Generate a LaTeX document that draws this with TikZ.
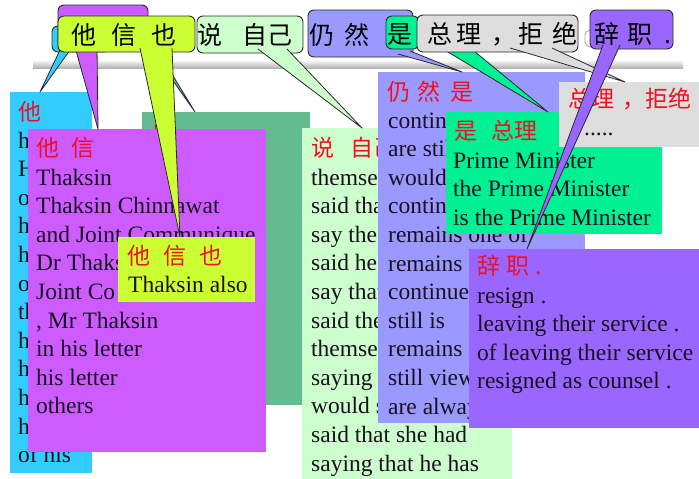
\documentclass[tikz,border=0pt]{standalone}
\usepackage{fontspec}
\setmainfont{Liberation Serif}
\newfontfamily\cjk{Noto Sans CJK SC}
\usetikzlibrary{calc}
\definecolor{cCyan}{HTML}{33CCFF}
\definecolor{cPurple}{HTML}{CC5CFF}
\definecolor{cYellow}{HTML}{CCFF33}
\definecolor{cDGreen}{HTML}{62BC8E}
\definecolor{cLGreen}{HTML}{CCFFCC}
\definecolor{cPeri}{HTML}{9999FF}
\definecolor{cGreen}{HTML}{00F094}
\definecolor{cGrey}{HTML}{DDDDDD}
\definecolor{cViolet}{HTML}{9966FF}
\definecolor{cRed}{HTML}{F01020}
\definecolor{cInk}{HTML}{1A1020}
\definecolor{cEdge}{HTML}{2A2A2A}
\newcommand\hs[1]{\hspace{#1pt}}
\newcommand\txtlines[4]{\foreach \ttxt [count=\nn from 0] in {#4} {\node[eng] (#1\nn) at (#2,{#3+\nn*28.6}) {\ttxt};}}
\newcommand\calltail[4]{%
  \fill[#1] (#2) -- (#4) -- (#3) -- cycle;
  \draw[tailedge] (#2) -- (#4) -- (#3);}
\begin{document}
\begin{tikzpicture}[x=1pt,y=-1pt,
  box/.style={draw=none, rectangle, inner sep=0pt, outer sep=0pt, anchor=north west},
  bub/.style={draw=cEdge, line width=0.9pt, rounded corners=6pt, rectangle, inner sep=0pt, outer sep=0pt, anchor=north west},
  eng/.style={anchor=base west, inner sep=0pt, text=cInk, font=\fontsize{23.5}{28}\selectfont},
  lab/.style={anchor=base west, inner sep=0pt, text=cRed, font=\cjk\fontsize{23}{28}\selectfont},
  btxt/.style={anchor=base west, inner sep=0pt, text=black, font=\cjk\fontsize{25}{28}\selectfont},
  tailedge/.style={draw=cEdge, line width=0.8pt, line join=round},
]
\useasboundingbox (0,0) rectangle (699,479);
% grey bar
\shade[top color=gray!10, bottom color=gray!60] (33,61) rectangle (683,68);

% ---- boxes ----
\node[box, fill=cCyan, minimum width=82pt, minimum height=381pt] (bxC) at (10,92) {};
\node[lab] (lC) at (18,120) {他};
\txtlines{c}{18}{148}{h,H,o,h,h,o,th,h,h,h,h,of his}

\node[box, fill=cDGreen, minimum width=168pt, minimum height=293pt] (bxD) at (142,112) {};
\node[lab] (lD) at (150,142) {也};

\node[box, fill=cPurple, minimum width=238pt, minimum height=323pt] (bxP) at (28,129) {};
\node[lab] (lP) at (36,156) {他\hs{12}信};
\txtlines{p}{36}{185}{Thaksin,Thaksin Chinnawat,and Joint Communique,Dr Thaks,Joint Co,{, Mr Thaksin},in his letter,his letter,others}

\node[box, fill=cYellow, minimum width=137pt, minimum height=65pt] (bxY) at (118,237) {};
\node[lab] (lY) at (127,264) {他\hs{13}信\hs{13}也};
\txtlines{y}{128}{292}{Thaksin also}

\node[box, fill=cLGreen, minimum width=210pt, minimum height=351pt] (bxL) at (302,128) {};
\node[lab] (lL) at (311,156) {说\hs{16}自己};
\txtlines{g}{311}{185}{themsel,said tha,say the,said he,say that,said the,themsel,saying,would s,said that she had,saying that he has}

\node[box, fill=cPeri, minimum width=207pt, minimum height=351pt] (bxR) at (378,72) {};
\node[lab] (lR) at (387,100) {仍\hs{7}然\hs{10}是};
\txtlines{r}{388}{128}{contin,are stil,would,contin,remains one of,remains,continue,still is,remains,still view,are always}

\node[box, fill=cGreen, minimum width=216pt, minimum height=122pt] (bxG) at (446,112) {};
\node[lab] (lG) at (454,139) {是\hs{14}总理};
\txtlines{n}{453}{168}{Prime Minister,the Prime Minister,is the Prime Minister}

\node[box, fill=cGrey, minimum width=140pt, minimum height=65pt] (bxS) at (559,82) {};
\node[lab] (lS) at (568,107) {总理\hs{8}，拒绝};
\node[eng] (dS) at (584,135) {.....};

\node[box, fill=cViolet, minimum width=230pt, minimum height=179pt] (bxV) at (469,249) {};
\node[lab] (lV) at (477,274) {辞\hs{6}职\hs{6}.};
\txtlines{v}{477}{303}{resign .,leaving their service .,of leaving their service,resigned as counsel .}

% ---- callouts ----
% cyan
\node[bub, fill=cCyan, minimum width=58pt, minimum height=26pt] (bC) at (52,26) {};
\coordinate (cA) at (60,50); \coordinate (cB) at (70,50);
\calltail{cCyan}{cA}{cB}{$(bxC.north west)+(30,0)$}
% purple
\node[bub, fill=cPurple, minimum width=90pt, minimum height=45pt] (bP) at (58,5) {};
\coordinate (pA) at (75,47); \coordinate (pB) at (97,47);
\calltail{cPurple}{pA}{pB}{$(bxP.north west)+(70,0)$}
% dark green tail
\coordinate (dA) at (150,48); \coordinate (dB) at (156,48);
\calltail{cDGreen}{dA}{dB}{$(bxD.north west)+(53,0)$}
% yellow
\node[bub, fill=cYellow, minimum width=137pt, minimum height=36pt] (bY) at (58,16) {};
\node[btxt] (tY) at (71,44.5) {他\hs{15}信\hs{15}也};
\coordinate (yA) at (140,48); \coordinate (yB) at (172,48);
\calltail{cYellow}{yA}{yB}{$(bxY.north west)+(62,0)$}
% light green
\node[bub, fill=cLGreen, minimum width=106pt, minimum height=37pt] (bL) at (197,16) {};
\node[btxt] (tL) at (197,44) {说\hs{20}自己};
\coordinate (lA) at (258,49); \coordinate (lB) at (287,49);
\calltail{cLGreen}{lA}{lB}{$(bxL.north west)+(60,0)$}
% periwinkle
\node[bub, fill=cPeri, minimum width=105pt, minimum height=47pt] (bR) at (308,10) {};
\node[btxt] (tR) at (309,44) {仍\hs{10}然};
\coordinate (rA) at (398,54); \coordinate (rB) at (410,51);
\calltail{cPeri}{rA}{rB}{$(bxR.north west)+(84,0)$}
% green
\node[bub, fill=cGreen, minimum width=33pt, minimum height=33pt] (bG) at (386,16) {};
\node[btxt] (tG) at (387,43) {是};
\coordinate (gA) at (438,46); \coordinate (gB) at (468,46);
\calltail{cGreen}{gA}{gB}{$(bxG.north west)+(102,0)$}
% grey
\node[bub, fill=cGrey, minimum width=161pt, minimum height=37pt] (bS) at (417,15) {};
\node[btxt] (tS) at (427,43) {总\hs{4}理\hs{10}，\hs{2}拒\hs{9}绝};
\coordinate (sA) at (510,48); \coordinate (sB) at (552,48);
\calltail{cGrey}{sA}{sB}{$(bxS.north west)+(66,0)$}
% small bubble behind violet
\node[bub, fill=white, draw=gray!70, minimum width=26pt, minimum height=17pt, rounded corners=5pt] (bX) at (585,30) {};
% violet
\node[bub, fill=cViolet, minimum width=83pt, minimum height=39pt] (bV) at (590,10) {};
\node[btxt] (tV) at (594,43) {辞\hs{8}职\hs{12}.};
\coordinate (vA) at (603,45); \coordinate (vB) at (620,45);
\calltail{cViolet}{vA}{vB}{$(bxV.north west)+(58,0)$}
\end{tikzpicture}
\end{document}
